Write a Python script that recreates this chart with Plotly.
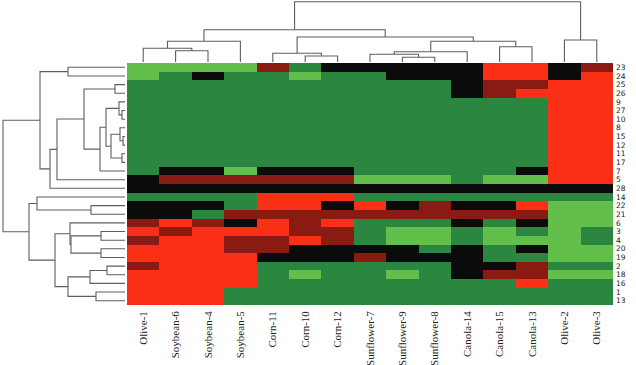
import plotly.graph_objects as go

W, H = 636, 365

col_labels = ["Olive-1", "Soybean-6", "Soybean-4", "Soybean-5", "Corn-11", "Corn-10", "Corn-12",
              "Sunflower-7", "Sunflower-9", "Sunflower-8", "Canola-14", "Canola-15", "Canola-13",
              "Olive-2", "Olive-3"]
row_labels = ["23", "24", "25", "26", "9", "27", "10", "8", "15", "12", "11", "17", "7", "5", "28",
              "14", "22", "21", "6", "3", "4", "20", "19", "2", "18", "16", "1", "13"]

# L=light green, G=green, K=black, D=dark red, R=red
row_codes = [
    "LLLLDGKKKKKRRKD",
    "LGKGGLGGKKKRRKR",
    "GGGGGGGGGGKDDRR",
    "GGGGGGGGGGKDRRR",
    "GGGGGGGGGGGGGRR",
    "GGGGGGGGGGGGGRR",
    "GGGGGGGGGGGGGRR",
    "GGGGGGGGGGGGGRR",
    "GGGGGGGGGGGGGRR",
    "GGGGGGGGGGGGGRR",
    "GGGGGGGGGGGGGRR",
    "GGGGGGGGGGGGGRR",
    "GKKLKKKGGGGGKRR",
    "KDDDDDDLLLGLLRR",
    "KKKKKKKKKKKKKKK",
    "GGGGRRRGGGGGGGG",
    "KKKGRRKRKDKKRLL",
    "KKGDDDDDDDDDDLL",
    "DRDKRDRGGGKGKLL",
    "RDRRRDDGLLGLGLG",
    "DRRDDRDGLLGLLLG",
    "RRRDDKKKKGKGKLL",
    "RRRRKKKDKKKGGLL",
    "DRRRGGGGGGKKDGG",
    "RRRRGLGGLGKDDLL",
    "RRRRGGGGGGGGRGG",
    "RRRGGGGGGGGGGGG",
    "RRRGGGGGGGGGGGG",
]
code_value = {"L": 0, "G": 1, "K": 2, "D": 3, "R": 4}
palette = ["#62bf4c", "#2b873f", "#0b0b0b", "#8a1b13", "#fb2e16"]

# dendrogram linkages: (child_a, child_b, height); ids >= n refer to earlier merges
col_links = [
    (1, 2, 11.3), (0, 15, 13.7), (16, 3, 20.7), (5, 6, 6.0), (4, 18, 8.7),
    (8, 9, 4.7), (7, 20, 7.7), (21, 10, 10.3), (11, 12, 15.3), (22, 23, 20.7),
    (19, 24, 25.0), (17, 25, 32.3), (13, 14, 22.0), (26, 27, 60.3),
]
row_links = [
    (0, 1, 57), (2, 3, 10), (5, 6, 3), (4, 30, 6), (8, 9, 2), (7, 32, 5),
    (10, 11, 3), (33, 34, 14), (31, 35, 19), (36, 12, 25), (29, 37, 41),
    (38, 13, 68), (39, 14, 75), (28, 40, 85), (16, 17, 34), (15, 42, 88),
    (19, 20, 24), (21, 22, 24), (44, 45, 54), (18, 46, 55), (23, 24, 18),
    (48, 25, 35), (26, 27, 29), (49, 50, 57), (47, 51, 70), (43, 52, 96),
    (41, 53, 122),
]


def dendro_segments(links, n):
    pos = {i: float(i) for i in range(n)}
    hgt = {i: 0.0 for i in range(n)}
    ps, hs = [], []
    for k, (a, b, h) in enumerate(links):
        ps += [pos[a], pos[a], pos[b], pos[b], None]
        hs += [hgt[a], h, h, hgt[b], None]
        pos[n + k] = (pos[a] + pos[b]) / 2
        hgt[n + k] = h
    return ps, hs


z = [[code_value[c] for c in r] for r in row_codes]
nc = len(palette)
cscale = []
for i, c in enumerate(palette):
    cscale.append([i / nc, c])
    cscale.append([(i + 1) / nc, c])

fig = go.Figure()
fig.add_trace(go.Heatmap(z=z, x=list(range(len(col_labels))), y=list(range(len(row_labels))),
                         colorscale=cscale, zmin=-0.5, zmax=nc - 0.5, showscale=False,
                         xgap=0, ygap=0, hoverinfo="skip"))

cp, ch = dendro_segments(col_links, len(col_labels))
fig.add_trace(go.Scatter(x=cp, y=ch, mode="lines", xaxis="x", yaxis="y2",
                         line=dict(color="#5e5e5e", width=1.1), hoverinfo="skip"))
rp, rh = dendro_segments(row_links, len(row_labels))
fig.add_trace(go.Scatter(x=rh, y=rp, mode="lines", xaxis="x2", yaxis="y",
                         line=dict(color="#5e5e5e", width=1.1), hoverinfo="skip"))

hm_left, hm_right, hm_top, hm_bottom = 127, 613, 63, 305
fig.update_layout(
    width=W, height=H, margin=dict(l=0, r=0, t=0, b=0),
    paper_bgcolor="white", plot_bgcolor="white", showlegend=False,
    xaxis=dict(domain=[hm_left / W, hm_right / W], range=[-0.5, len(col_labels) - 0.5],
               tickvals=list(range(len(col_labels))), ticktext=col_labels, tickangle=-90,
               tickfont=dict(family="Liberation Serif", size=11, color="#222"),
               ticklabelstandoff=3,
               showgrid=False, zeroline=False, ticks="", anchor="y", showline=False),
    yaxis=dict(domain=[1 - hm_bottom / H, 1 - hm_top / H], range=[len(row_labels) - 0.5, -0.5],
               tickvals=list(range(len(row_labels))), ticktext=row_labels, side="right",
               tickfont=dict(family="DejaVu Sans", size=7.5, color="#222"),
               ticklabelstandoff=2,
               showgrid=False, zeroline=False, ticks="", anchor="x", showline=False),
    xaxis2=dict(domain=[0, 125 / W], range=[125, 0], visible=False, anchor="y"),
    yaxis2=dict(domain=[1 - 62 / H, 1], range=[0, 62], visible=False, anchor="x"),
)

fig.write_html("out.html")
